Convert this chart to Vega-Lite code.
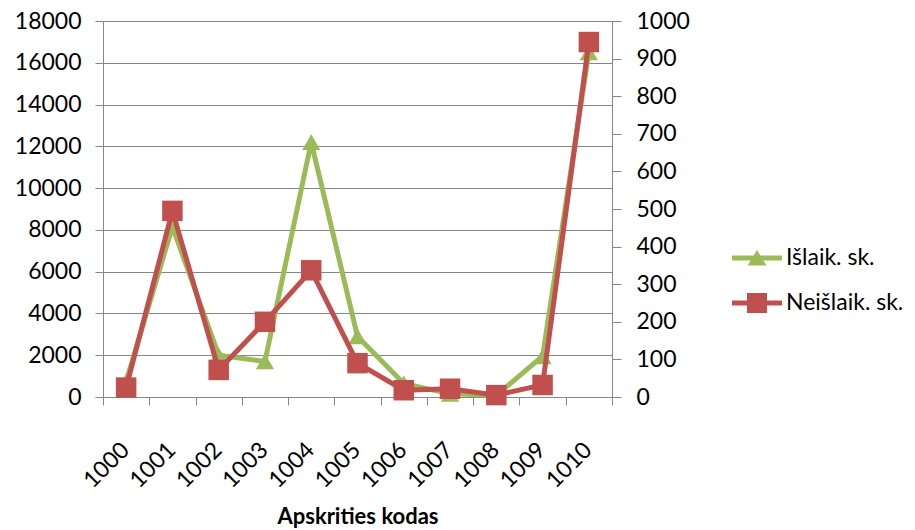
{
  "$schema": "https://vega.github.io/schema/vega-lite/v6.json",
  "width": 509,
  "height": 376,
  "autosize": {"type": "none"},
  "padding": {"left": 103, "top": 21, "right": 303, "bottom": 133},
  "background": "white",
  "config": {
    "view": {"stroke": null},
    "font": "Lato",
    "axis": {
      "domainColor": "#868686",
      "tickColor": "#868686",
      "gridColor": "#868686",
      "domainWidth": 1,
      "tickWidth": 1,
      "gridWidth": 1,
      "labelFont": "Lato",
      "labelFontSize": 23,
      "labelColor": "#000000",
      "titleFont": "Lato",
      "titleColor": "#000000"
    }
  },
  "data": {
    "values": [
      {"kodas": "1000", "islaik": 750, "neislaik": 25},
      {"kodas": "1001", "islaik": 8150, "neislaik": 495},
      {"kodas": "1002", "islaik": 2000, "neislaik": 72},
      {"kodas": "1003", "islaik": 1700, "neislaik": 200},
      {"kodas": "1004", "islaik": 12200, "neislaik": 337},
      {"kodas": "1005", "islaik": 2900, "neislaik": 90},
      {"kodas": "1006", "islaik": 650, "neislaik": 18},
      {"kodas": "1007", "islaik": 150, "neislaik": 22},
      {"kodas": "1008", "islaik": 80, "neislaik": 5},
      {"kodas": "1009", "islaik": 1950, "neislaik": 32},
      {"kodas": "1010", "islaik": 16500, "neislaik": 944}
    ]
  },
  "encoding": {
    "x": {
      "field": "kodas",
      "type": "ordinal",
      "scale": {"type": "band", "paddingInner": 0, "paddingOuter": 0},
      "axis": {
        "title": "Apskrities kodas",
        "titleFontSize": 22,
        "titleFontWeight": "bold",
        "titlePadding": 14,
        "tickBand": "extent",
        "tickSize": 8,
        "labelAngle": -45,
        "labelAlign": "right",
        "labelBaseline": "middle",
        "labelPadding": 41,
        "labelOffset": -1,
        "grid": false,
        "domain": true
      }
    }
  },
  "layer": [
    {
      "encoding": {
        "y": {
          "field": "islaik",
          "type": "quantitative",
          "scale": {"domain": [0, 18000], "nice": false, "zero": true},
          "axis": {
            "orient": "left",
            "title": null,
            "values": [0, 2000, 4000, 6000, 8000, 10000, 12000, 14000, 16000, 18000],
            "format": "d",
            "grid": true,
            "tickSize": 8,
            "labelPadding": 14
          }
        },
        "color": {
          "datum": "Išlaik. sk.",
          "type": "nominal",
          "scale": {"domain": ["Išlaik. sk.", "Neišlaik. sk."], "range": ["#9BBB59", "#C0504D"]},
          "legend": {
            "title": null,
            "orient": "none",
            "legendX": 629,
            "legendY": 212,
            "symbolSize": 2500,
            "rowPadding": 8,
            "labelFont": "Lato",
            "labelFontSize": 23,
            "labelColor": "#000000",
            "labelOffset": 4,
            "encode": {
              "symbols": {
                "update": {
                  "shape": {"signal": "datum.value === 'Išlaik. sk.' ? 'M-1,-0.1H1V0.1H-1Z M0,-0.32L0.38,0.3H-0.38Z' : 'M-1,-0.1H1V0.1H-1Z M-0.4,-0.4H0.4V0.4H-0.4Z'"},
                  "fill": {"signal": "datum.value === 'Išlaik. sk.' ? '#9BBB59' : '#C0504D'"},
                  "stroke": {"value": "transparent"},
                  "strokeWidth": {"value": 0},
                  "opacity": {"value": 1},
                  "fillOpacity": {"value": 1}
                }
              }
            }
          }
        }
      },
      "layer": [
        {"mark": {"type": "line", "strokeWidth": 5}},
        {"mark": {"type": "point", "shape": "triangle-up", "filled": true, "size": 330, "opacity": 1}}
      ]
    },
    {
      "encoding": {
        "y": {
          "field": "neislaik",
          "type": "quantitative",
          "scale": {"domain": [0, 1000], "nice": false, "zero": true},
          "axis": {
            "orient": "right",
            "title": null,
            "values": [0, 100, 200, 300, 400, 500, 600, 700, 800, 900, 1000],
            "format": "d",
            "grid": false,
            "tickSize": 9,
            "labelPadding": 15
          }
        },
        "color": {"datum": "Neišlaik. sk.", "type": "nominal"}
      },
      "layer": [
        {"mark": {"type": "line", "strokeWidth": 5}},
        {"mark": {"type": "point", "shape": "square", "filled": true, "size": 420, "opacity": 1}}
      ]
    }
  ],
  "resolve": {"scale": {"y": "independent"}}
}
